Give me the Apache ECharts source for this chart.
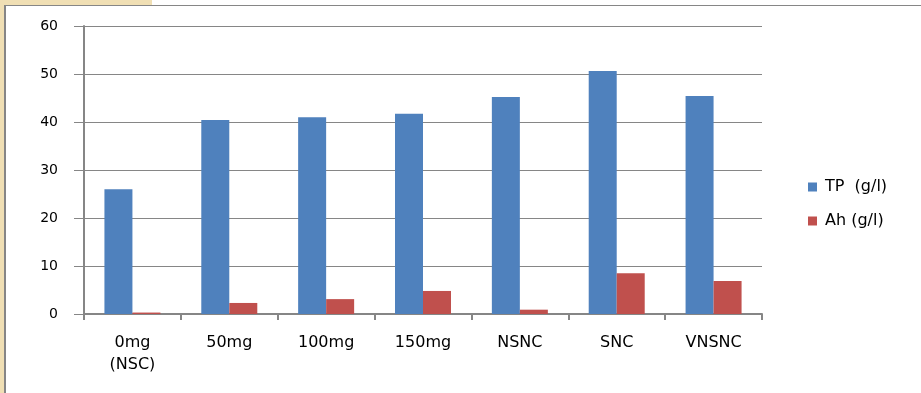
<!DOCTYPE html>
<html>
<head>
<meta charset="utf-8">
<style>
html,body{margin:0;padding:0;background:#fff;}
#chart{width:921px;height:393px;}
</style>
<script src="https://cdn.jsdelivr.net/npm/echarts@6/dist/echarts.min.js"></script>
</head>
<body>
<div id="chart"></div>
<script>
const categories = ['0mg\n(NSC)', '50mg', '100mg', '150mg', 'NSNC', 'SNC', 'VNSNC'];
const seriesNames = ['TP  (g/l)', 'Ah (g/l)'];
const tpValues = [26.0, 40.4, 41.0, 41.7, 45.2, 50.6, 45.4];
const ahValues = [0.3, 2.3, 3.1, 4.8, 0.9, 8.5, 6.9];
const yTicks = [0, 10, 20, 30, 40, 50, 60];

const chart = echarts.init(document.getElementById('chart'), null, {renderer: 'canvas'});
const font = 'DejaVu Sans';
const gray = '#868686';
chart.setOption({
  animation: false,
  backgroundColor: '#ffffff',
  graphic: [
    {type: 'rect', shape: {x: 0, y: 0, width: 4, height: 393}, style: {fill: '#F0DFB4'}, silent: true},
    {type: 'rect', shape: {x: 0, y: 0, width: 152, height: 5}, style: {fill: '#F0DFB4'}, silent: true},
    {type: 'rect', shape: {x: 4, y: 5, width: 917, height: 1}, style: {fill: gray}, silent: true},
    {type: 'rect', shape: {x: 4, y: 5, width: 2, height: 388}, style: {fill: gray}, silent: true}
  ],
  grid: {left: 84, right: 159, top: 26, bottom: 79, containLabel: false},
  legend: {
    orient: 'vertical',
    left: 803,
    top: 174,
    itemWidth: 9,
    itemHeight: 9,
    itemGap: 18,
    icon: 'rect',
    textStyle: {fontFamily: font, fontSize: 16, color: '#000', padding: [0, 0, 0, 3]},
    data: seriesNames
  },
  xAxis: {
    type: 'category',
    data: categories,
    boundaryGap: true,
    axisLine: {lineStyle: {color: gray, width: 2}},
    axisTick: {show: true, length: 6, alignWithLabel: false, lineStyle: {color: gray, width: 2}},
    axisLabel: {fontFamily: font, fontSize: 16, color: '#000', margin: 18, lineHeight: 22, interval: 0}
  },
  yAxis: {
    type: 'value',
    min: yTicks[0],
    max: yTicks[yTicks.length - 1],
    interval: 10,
    axisLine: {show: true, lineStyle: {color: gray, width: 2}},
    axisTick: {show: true, length: 10, lineStyle: {color: gray, width: 1}},
    splitLine: {show: true, lineStyle: {color: gray, width: 1}},
    axisLabel: {fontFamily: font, fontSize: 14, color: '#000', margin: 26}
  },
  series: [
    {name: seriesNames[0], type: 'bar', data: tpValues, barWidth: 28, barGap: '0%', itemStyle: {color: '#4F81BD'}},
    {name: seriesNames[1], type: 'bar', data: ahValues, barWidth: 28, barGap: '0%', itemStyle: {color: '#C0504D'}}
  ]
});
</script>
</body>
</html>
